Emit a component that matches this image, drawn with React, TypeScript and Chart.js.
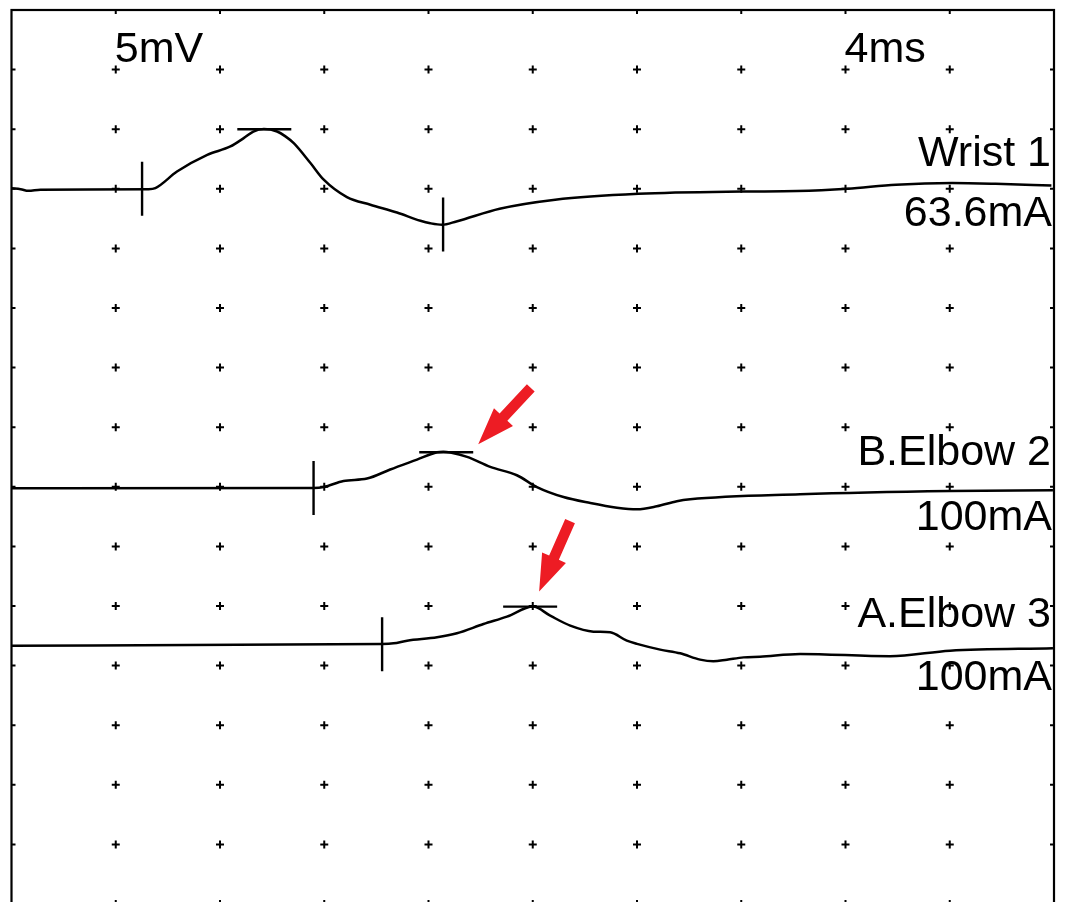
import { useEffect, useRef } from "react";
import { Chart, registerables } from "chart.js";

Chart.register(...registerables);

// ---- axes (ms / mV) ----
const xRangeMs = [0, 40];
const yRangeMv = [-75, 0];
const msPerDiv = 4;
const mvPerDiv = 5;
const sensitivityLabel = "5mV";
const sweepLabel = "4ms";

// ---- traces ----
const traceNames = ["Wrist 1", "B.Elbow 2", "A.Elbow 3"];
const traceCurrents = ["63.6mA", "100mA", "100mA"];
const traceBaselinesMv = [-15, -40.1, -53.2];

const wristTimes = [0, 0.35, 0.65, 1.11, 5.25, 5.52, 6.35, 7.51, 8.4, 8.91, 9.28, 9.68, 10.19, 10.51, 10.83, 11.47, 11.98, 12.87, 13.77, 14.79, 15.69, 16.07, 16.52, 17.07, 18.73, 20.86, 24.05, 28.02, 30.14, 32.08, 33.94, 36.09, 37.76, 39.9];
const wristAmps = [0.04, -0.03, -0.17, -0.07, -0.03, 0.06, 1.45, 2.85, 3.55, 4.25, 4.8, 5.01, 4.81, 4.4, 3.83, 2.16, 0.76, -0.7, -1.34, -1.99, -2.68, -2.89, -3.02, -2.74, -1.68, -0.92, -0.42, -0.23, -0.19, 0, 0.34, 0.48, 0.42, 0.28];

const bElbowTimes = [0, 11.59, 11.98, 12.74, 13.64, 14.53, 15.56, 16.33, 16.57, 16.84, 17.48, 18.37, 19.39, 20.16, 21.18, 22.21, 23.23, 24.0, 24.76, 25.53, 26.04, 30.26, 36.01, 39.96];
const bElbowAmps = [-0.03, 0, 0.08, 0.59, 0.79, 1.55, 2.38, 3.0, 3.04, 2.97, 2.61, 1.77, 1.07, 0.08, -0.76, -1.26, -1.65, -1.79, -1.54, -1.11, -0.95, -0.53, -0.25, -0.19];

const aElbowTimes = [0, 14.22, 14.66, 15.18, 16.33, 17.09, 18.11, 19.01, 20.01, 20.67, 21.44, 22.33, 22.97, 23.61, 24.0, 24.89, 25.66, 26.42, 26.93, 27.45, 28.09, 28.72, 30.26, 33.71, 36.01, 39.96];
const aElbowAmps = [-0.13, 0.02, 0.07, 0.29, 0.57, 0.91, 1.69, 2.31, 3.15, 2.39, 1.55, 1.05, 0.99, 0.29, 0.02, -0.46, -0.77, -1.3, -1.44, -1.3, -1.11, -1.05, -0.82, -1.02, -0.55, -0.35];

const traceTimes = [wristTimes, bElbowTimes, aElbowTimes];
const traceAmps = [wristAmps, bElbowAmps, aElbowAmps];

// ---- cursors ----
const onsetTimes = [5.01, 11.59, 14.22];
const peakTimes = [9.7, 16.68, 19.9];
const peakAmps = [5.0, 3.0, 3.15];
const troughTraces = [0];
const troughTimes = [16.56];
const troughAmps = [-3.0];
const arrowTraces = [1, 2];

// ---- styles ----
const FONT = "43px 'Liberation Sans', Arial, sans-serif";
const nameOffsetsPx = [-23, -23, -17.5];
const currentOffsetsPx = [37, 41.6, 45.8];
const arrowTipOffsetsPx = [[32, -8], [9, -15]];
const arrowDirs = [[-52.3, 56], [-30.7, 70]];

const overlayPlugin = {
  id: "emgOverlay",
  beforeDatasetsDraw(chart: any) {
    const { ctx, chartArea, scales } = chart;
    const xs = scales.x;
    const ys = scales.y;
    const nx = Math.round((xRangeMs[1] - xRangeMs[0]) / msPerDiv);
    const ny = Math.round((yRangeMv[1] - yRangeMv[0]) / mvPerDiv);
    ctx.save();
    ctx.strokeStyle = "#000";
    ctx.lineWidth = 2;
    ctx.beginPath();
    for (let i = 0; i <= nx; i++) {
      for (let j = 0; j <= ny; j++) {
        const px = xs.getPixelForValue(xRangeMs[0] + i * msPerDiv);
        const py = ys.getPixelForValue(yRangeMv[1] - j * mvPerDiv);
        const a = 4;
        if (i === 0) {
          ctx.moveTo(px, py);
          ctx.lineTo(px + a, py);
        } else if (i === nx) {
          ctx.moveTo(px, py);
          ctx.lineTo(px - a, py);
        } else if (j === 0) {
          ctx.moveTo(px, py);
          ctx.lineTo(px, py + a);
        } else {
          ctx.moveTo(px - a, py);
          ctx.lineTo(px + a, py);
          ctx.moveTo(px, py - a);
          ctx.lineTo(px, py + a);
        }
      }
    }
    ctx.stroke();
    // frame
    ctx.lineWidth = 2.2;
    ctx.strokeRect(chartArea.left, chartArea.top, chartArea.right - chartArea.left, chartArea.bottom - chartArea.top);
    ctx.restore();
  },
  afterDatasetsDraw(chart: any) {
    const { ctx, chartArea, scales } = chart;
    const xs = scales.x;
    const ys = scales.y;
    ctx.save();
    ctx.strokeStyle = "#000";
    ctx.lineWidth = 2.4;
    ctx.beginPath();
    traceBaselinesMv.forEach((base, i) => {
      // onset cursor (vertical)
      const ox = xs.getPixelForValue(onsetTimes[i]);
      const oy = ys.getPixelForValue(base);
      ctx.moveTo(ox, oy - 27);
      ctx.lineTo(ox, oy + 27);
      // peak cursor (horizontal)
      const px = xs.getPixelForValue(peakTimes[i]);
      const py = ys.getPixelForValue(base + peakAmps[i]);
      ctx.moveTo(px - 27, py);
      ctx.lineTo(px + 27, py);
    });
    troughTraces.forEach((ti, k) => {
      const tx = xs.getPixelForValue(troughTimes[k]);
      const ty = ys.getPixelForValue(traceBaselinesMv[ti] + troughAmps[k]);
      ctx.moveTo(tx, ty - 27);
      ctx.lineTo(tx, ty + 27);
    });
    ctx.stroke();

    // labels
    ctx.fillStyle = "#000";
    ctx.font = FONT;
    ctx.textBaseline = "alphabetic";
    ctx.textAlign = "left";
    ctx.fillText(sensitivityLabel, xs.getPixelForValue(msPerDiv) - 1, chartArea.top + 52);
    ctx.fillText(sweepLabel, xs.getPixelForValue(8 * msPerDiv) - 1, chartArea.top + 52);
    ctx.textAlign = "right";
    traceBaselinesMv.forEach((base, i) => {
      const by = ys.getPixelForValue(base);
      ctx.fillText(traceNames[i], chartArea.right - 3, by + nameOffsetsPx[i]);
      ctx.fillText(traceCurrents[i], chartArea.right - 2, by + currentOffsetsPx[i]);
    });

    // red arrows pointing at peaks
    ctx.fillStyle = "#ED1C24";
    arrowTraces.forEach((ti, k) => {
      const px = xs.getPixelForValue(peakTimes[ti]);
      const py = ys.getPixelForValue(traceBaselinesMv[ti] + peakAmps[ti]);
      const tipX = px + arrowTipOffsetsPx[k][0];
      const tipY = py + arrowTipOffsetsPx[k][1];
      const [dx, dy] = arrowDirs[k];
      const len = Math.hypot(dx, dy);
      const ux = dx / len;
      const uy = dy / len;
      const nxv = -uy;
      const nyv = ux;
      const total = 77;
      const headLen = 37;
      const headHalf = 13;
      const shaftHalf = 5.3;
      const tailX = tipX - ux * total;
      const tailY = tipY - uy * total;
      const bX = tipX - ux * headLen;
      const bY = tipY - uy * headLen;
      ctx.beginPath();
      ctx.moveTo(tailX + nxv * shaftHalf, tailY + nyv * shaftHalf);
      ctx.lineTo(bX + nxv * shaftHalf, bY + nyv * shaftHalf);
      ctx.lineTo(bX + nxv * headHalf, bY + nyv * headHalf);
      ctx.lineTo(tipX, tipY);
      ctx.lineTo(bX - nxv * headHalf, bY - nyv * headHalf);
      ctx.lineTo(bX - nxv * shaftHalf, bY - nyv * shaftHalf);
      ctx.lineTo(tailX - nxv * shaftHalf, tailY - nyv * shaftHalf);
      ctx.closePath();
      ctx.fill();
    });
    ctx.restore();
  },
};

export default function App() {
  const ref = useRef<HTMLCanvasElement>(null);
  useEffect(() => {
    if (!ref.current) return;
    const datasets = traceTimes.map((times, i) => ({
      label: traceNames[i],
      data: times.map((t, k) => ({ x: t, y: traceBaselinesMv[i] + traceAmps[i][k] })),
      borderColor: "#000",
      borderWidth: 2.5,
      pointRadius: 0,
      fill: false,
      cubicInterpolationMode: "monotone" as const,
    }));
    const chart = new Chart(ref.current, {
      type: "line",
      data: { datasets },
      options: {
        animation: false,
        responsive: false,
        devicePixelRatio: 1,
        layout: { padding: { left: 11.5, right: 15, top: 10, bottom: 16 } },
        plugins: { legend: { display: false }, tooltip: { enabled: false } },
        scales: {
          x: { type: "linear", min: xRangeMs[0], max: xRangeMs[1], display: false },
          y: { type: "linear", min: yRangeMv[0], max: yRangeMv[1], display: false },
        },
      },
      plugins: [overlayPlugin],
    });
    return () => chart.destroy();
  }, []);
  return (
    <div style={{ position: "absolute", left: 0, top: 0, width: 1069, height: 902, overflow: "hidden", background: "#fff" }}>
      <canvas ref={ref} width={1069} height={920} style={{ display: "block" }} />
    </div>
  );
}
